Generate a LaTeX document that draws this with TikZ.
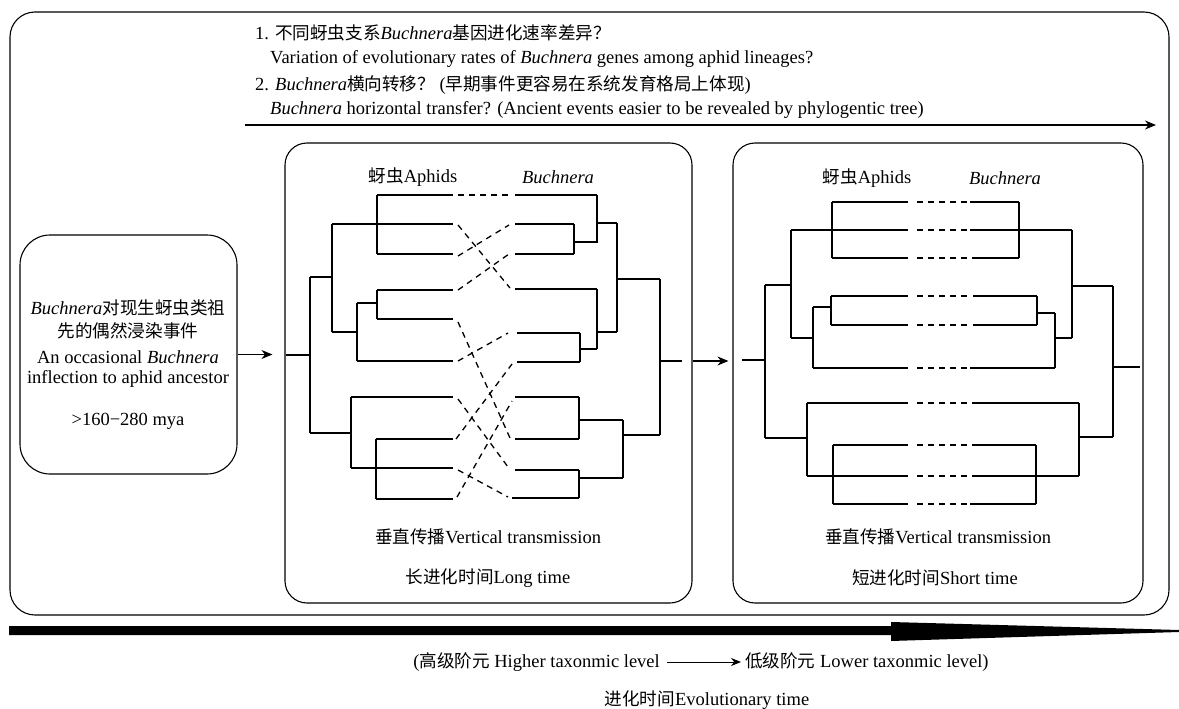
\documentclass[tikz,border=0pt]{standalone}
\usepackage{fontspec}
\setmainfont{Liberation Serif}
\newfontfamily\cjk{Noto Sans CJK SC}[Scale=0.95]
\newcommand\zh[1]{{\cjk #1}}
\usetikzlibrary{arrows.meta}
\begin{document}
\begin{tikzpicture}[x=1pt,y=-1pt,font=\fontsize{18.5}{22}\selectfont,
  tree/.style={line width=1.3pt},
  dsh/.style={line width=1.3pt,dash pattern=on 6pt off 5pt},
  box/.style={draw,line width=1.1pt,inner sep=0pt},
  arr/.style={line width=1.2pt,-{Stealth[length=11pt,width=9pt]}},
  arrs/.style={line width=1pt,-{Stealth[length=10pt,width=8pt]}},
  lbl/.style={inner sep=0pt}]
\useasboundingbox (0,0) rectangle (1179,709);
% outer frame
\node[box,rounded corners=25pt,minimum width=1159pt,minimum height=603pt] (outer) at (589.5,313.5) {};
% top questions
\node[lbl,anchor=west] (q1) at (255,33) {1. \zh{不同蚜虫支系}\textit{Buchnera}\zh{基因进化速率差异？}};
\node[lbl,anchor=west] (q2) at (270,59) {Variation of evolutionary rates of \textit{Buchnera} genes among aphid lineages?};
\node[lbl,anchor=west] (q3) at (255,85) {2. \textit{Buchnera}\zh{横向转移？} (\zh{早期事件更容易在系统发育格局上体现})};
\node[lbl,anchor=west] (q4) at (270,110) {\textit{Buchnera} horizontal transfer? (Ancient events easier to be revealed by phylogentic tree)};
\coordinate (ta) at (245,125);
\coordinate (tb) at (1156,125);
\draw[arr] (ta) -- (tb);
% left box
\node[box,rounded corners=30pt,minimum width=217pt,minimum height=239pt] (src) at (128.5,354.5) {};
\node[lbl] (s1) at (128,308) {\textit{Buchnera}\zh{对现生蚜虫类祖}};
\node[lbl] (s2) at (128,331) {\zh{先的偶然浸染事件}};
\node[lbl] (s3) at (128,357) {An occasional \textit{Buchnera}};
\node[lbl] (s4) at (128,379) {inflection to aphid ancestor};
\node[lbl] (s5) at (128,421) {>160−280 mya};
% panels
\node[box,rounded corners=22pt,minimum width=407pt,minimum height=460pt] (mid) at (488.5,373) {};
\node[box,rounded corners=22pt,minimum width=410pt,minimum height=460pt] (rgt) at (938,373) {};
\draw[arr,shorten >=12pt] (src.east) -- (src.east -| mid.west);
\draw[arr,shorten >=4pt] (mid.east |- 0,361) -- (rgt.west |- 0,361);
% panel labels
\node[lbl] (ma) at (413,177) {\zh{蚜虫}Aphids};
\node[lbl] (mb) at (558,177) {\textit{Buchnera}};
\node[lbl] (ra) at (867,178) {\zh{蚜虫}Aphids};
\node[lbl] (rb) at (1005,178) {\textit{Buchnera}};
\node[lbl] (mv) at (488,537) {\zh{垂直传播}Vertical transmission};
\node[lbl] (rv) at (938,537) {\zh{垂直传播}Vertical transmission};
\node[lbl] (ml) at (488,578) {\zh{长进化时间}Long time};
\node[lbl] (rl) at (935,578) {\zh{短进化时间}Short time};
% middle panel: aphid tree
\foreach \a/\b/\c/\d in {286/355/310/355, 310/277/310/433, 310/277/332/277, 332/224/332/332,
  332/224/453/224, 377/195/377/254, 377/195/453/195, 377/254/453/254,
  332/332/357/332, 357/303/357/361, 357/361/453/361, 357/303/377/303, 377/290/377/319,
  377/290/453/290, 377/319/453/319,
  310/433/351/433, 351/397/351/468, 351/397/453/397, 351/468/453/468,
  376/439/376/499, 376/439/453/439, 376/499/453/499}
  \draw[tree] (\a,\b) -- (\c,\d);
% middle panel: Buchnera tree
\foreach \a/\b/\c/\d in {515/195/597/195, 597/195/597/243, 515/224/574/224, 515/254/574/254,
  574/224/574/254, 574/242/597/242, 597/223/617/223, 617/223/617/332, 617/279/660/279,
  515/289/597/289, 597/289/597/349, 597/332/617/332, 517/333/580/333, 517/362/580/362,
  580/333/580/362, 580/349/597/349, 660/279/660/435, 660/361/682/361,
  515/397/579/397, 515/439/579/439, 579/397/579/439, 579/420/623/420,
  515/470/579/470, 512/498/579/498, 579/470/579/498, 579/478/623/478,
  623/420/623/478, 623/435/660/435}
  \draw[tree] (\a,\b) -- (\c,\d);
% middle panel: associations
\foreach \a/\b/\c/\d in {458/195/511/195, 458/225/510/288, 458/256/509/225, 458/290/509/254,
  458/322/510/438, 458/361/508/333, 458/399/508/467, 456/439/512/364,
  458/470/508/497, 457/497/512/401}
  \draw[dsh] (\a,\b) -- (\c,\d);
% right panel: aphid tree
\foreach \a/\b/\c/\d in {742/360/765/360, 765/285/765/438, 765/285/791/285, 791/230/791/338,
  791/230/908/230, 832/202/832/258, 832/202/908/202, 832/258/908/258,
  791/338/813/338, 813/307/813/368, 813/368/908/368, 813/307/831/307, 831/296/831/325,
  831/296/908/296, 831/325/908/325,
  765/438/807/438, 807/403/807/476, 807/403/908/403, 807/476/908/476,
  833/445/833/504, 833/445/908/445, 833/504/908/504}
  \draw[tree] (\a,\b) -- (\c,\d);
% right panel: Buchnera tree
\foreach \a/\b/\c/\d in {970/202/1019/202, 972/258/1019/258, 1019/202/1019/258,
  970/230/1072/230, 1072/230/1072/338, 1072/286/1113/286,
  973/296/1037/296, 973/325/1037/325, 1037/296/1037/325, 1037/313/1055/313,
  1055/313/1055/368, 970/368/1055/368, 1055/338/1072/338,
  1113/286/1113/437, 1113/367/1140/367,
  972/403/1079/403, 972/476/1079/476, 1079/403/1079/476, 1079/437/1113/437,
  972/445/1036/445, 970/504/1036/504, 1036/445/1036/504}
  \draw[tree] (\a,\b) -- (\c,\d);
\foreach \y in {202,230,258,296,325,368,403,445,476,504}
  \draw[dsh] (917,\y) -- (968,\y);
% bottom big arrow
\fill (9,626) -- (891,626) -- (891,622) -- (1179,630) -- (1179,632) -- (891,641) -- (891,635) -- (9,635) -- cycle;
\node[lbl,anchor=east] (h1) at (660,662) {(\zh{高级阶元} Higher taxonmic level};
\node[lbl,anchor=west] (h2) at (745,662) {\zh{低级阶元} Lower taxonmic level)};
\draw[arrs,shorten <=7pt,shorten >=4pt] (h1.east) -- (h2.west);
\node[lbl] (et) at (707,700) {\zh{进化时间}Evolutionary time};
\end{tikzpicture}
\end{document}
